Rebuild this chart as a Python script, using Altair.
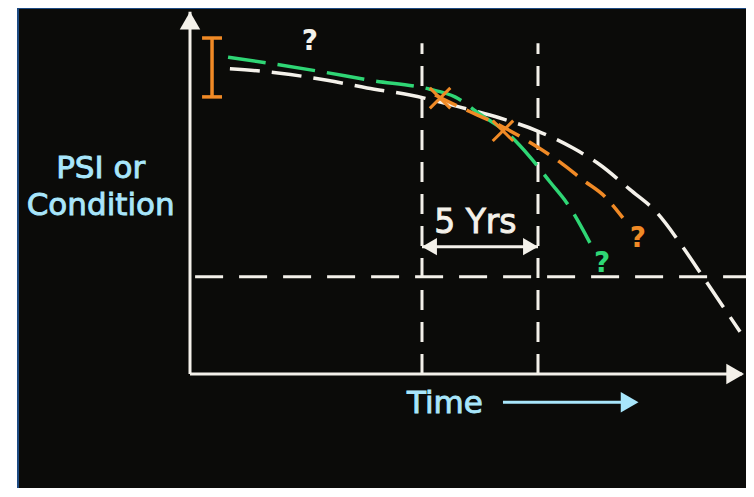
import altair as alt
import pandas as pd

# ---- values (time in years, condition in PSI units) ----
white_t = [1.72, 3.88, 5.91, 7.63, 9.48, 11.64, 13.36, 14.96, 16.51, 17.67, 18.97, 20.13, 21.25, 22.11, 22.93, 23.71]
white_v = [4.77, 4.70, 4.59, 4.47, 4.36, 4.17, 4.00, 3.80, 3.53, 3.27, 2.88, 2.52, 1.98, 1.52, 1.08, 0.66]
green_t = [1.64, 3.32, 5.73, 7.76, 10.34, 11.42, 12.50, 13.66, 14.66, 15.52, 16.25, 17.24]
green_v = [4.95, 4.86, 4.72, 4.59, 4.45, 4.33, 4.06, 3.77, 3.39, 3.00, 2.67, 2.05]
orange_t = [10.56, 11.64, 12.37, 13.49, 14.96, 15.95, 16.94, 17.89, 18.66]
orange_v = [4.36, 4.17, 4.05, 3.86, 3.55, 3.31, 3.03, 2.77, 2.44]
cross_t = [10.78, 13.49]
cross_v = [4.31, 3.80]
window_t = [10, 15]
window_top = 5.17
threshold_v = 1.52
threshold_t = [0.22, 23.97]
range_bar_t = 0.95
range_bar_v = [4.33, 5.25]
range_cap_half = 0.43
axis_top = 5.66
axis_right = 23.8
q_t = [5.17, 17.76, 19.31]
q_v = [5.06, 1.59, 1.98]
q_color = ["#f4f1ea", "#2fd675", "#f08a26"]
ylabel_lines = ["PSI or", "Condition"]
ylabel_t = -3.85
ylabel_v = [3.06, 2.48]
yrs_label = "5 Yrs"
yrs_v = 2.20
yrs_arrow_v = 1.99
time_label = "Time"
time_label_t = 9.35
time_label_v = -0.61
time_arrow_t = [13.49, 18.75]
time_arrow_v = -0.44

XDOM = [-7.414, 23.966]
YDOM = [-1.781, 5.719]
W, H = 728, 480

WHITE = "#f4f1ea"
GREEN = "#2fd675"
ORANGE = "#f08a26"
CYAN = "#a8e6fb"
BLUE = "#1d4a82"
FONT = "DejaVu Sans"

xs = alt.Scale(domain=XDOM, nice=False, zero=False)
ys = alt.Scale(domain=YDOM, nice=False, zero=False)


def X(f="t"):
    return alt.X(f"{f}:Q", scale=xs, axis=None)


def Y(f="v"):
    return alt.Y(f"{f}:Q", scale=ys, axis=None)


def curve(ts, vs, color, dash, width=3.5):
    df = pd.DataFrame({"t": ts, "v": vs})
    return alt.Chart(df).mark_line(
        color=color, strokeDash=dash, strokeWidth=width, interpolate="monotone", strokeCap="butt"
    ).encode(x=X(), y=Y())


def label(df, color, size, align="center"):
    return alt.Chart(df).mark_text(font=FONT, fontSize=size, color=color, align=align,
                                   baseline="alphabetic", stroke=color, strokeWidth=0.9).encode(
        x=X(), y=Y(), text="s:N")


layers = []

# axes
axes_df = pd.DataFrame({"t": [0, 0], "v": [0, 0], "t2": [0, axis_right], "v2": [axis_top, 0]})
layers.append(alt.Chart(axes_df).mark_rule(color=WHITE, strokeWidth=3).encode(
    x=X(), y=Y(), x2="t2:Q", y2="v2:Q"))
heads_df = pd.DataFrame({"t": [0, axis_right - 0.3], "v": [axis_top - 0.14, 0],
                         "shape": ["triangle-up", "triangle-right"]})
layers.append(alt.Chart(heads_df).mark_point(filled=True, color=WHITE, size=420, opacity=1).encode(
    x=X(), y=Y(), shape=alt.Shape("shape:N", scale=None)))

# threshold and 5-year window
thr_df = pd.DataFrame({"t": [threshold_t[0]], "t2": [threshold_t[1]], "v": [threshold_v]})
layers.append(alt.Chart(thr_df).mark_rule(color=WHITE, strokeWidth=3, strokeDash=[28, 16]).encode(
    x=X(), x2="t2:Q", y=Y()))
win_df = pd.DataFrame({"t": window_t, "v": [0, 0], "v2": [window_top, window_top]})
layers.append(alt.Chart(win_df).mark_rule(color=WHITE, strokeWidth=3, strokeDash=[20, 12]).encode(
    x=X(), y=Y(), y2="v2:Q"))

# curves
layers.append(curve(white_t, white_v, WHITE, [30, 12]))
layers.append(curve(green_t, green_v, GREEN, [38, 12]))
layers.append(curve(orange_t, orange_v, ORANGE, [24, 11]))

# crosses
cross_df = pd.DataFrame({"t": cross_t, "v": cross_v})
layers.append(alt.Chart(cross_df).mark_point(
    shape="M-1,-1L1,1M-1,1L1,-1", filled=False, color=ORANGE, strokeWidth=3, size=420, opacity=1
).encode(x=X(), y=Y()))

# range bar
bar_df = pd.DataFrame({"t": [range_bar_t], "v": [range_bar_v[0]], "v2": [range_bar_v[1]]})
layers.append(alt.Chart(bar_df).mark_rule(color=ORANGE, strokeWidth=3.5).encode(x=X(), y=Y(), y2="v2:Q"))
cap_df = pd.DataFrame({"t": [range_bar_t - range_cap_half] * 2, "t2": [range_bar_t + range_cap_half] * 2,
                       "v": range_bar_v})
layers.append(alt.Chart(cap_df).mark_rule(color=ORANGE, strokeWidth=3.5).encode(x=X(), x2="t2:Q", y=Y()))

# question marks
q_df = pd.DataFrame({"t": q_t, "v": q_v, "c": q_color, "s": ["?"] * 3})
layers.append(alt.Chart(q_df).mark_text(font=FONT, fontSize=28, fontWeight="bold", align="center",
                                        baseline="alphabetic").encode(
    x=X(), y=Y(), text="s:N", color=alt.Color("c:N", scale=None)))

# 5 Yrs label and double arrow
yrs_df = pd.DataFrame({"t": [sum(window_t) / 2 - 0.2], "v": [yrs_v], "s": [yrs_label]})
layers.append(label(yrs_df, WHITE, 33))
darr_df = pd.DataFrame({"t": [window_t[0]], "t2": [window_t[1]], "v": [yrs_arrow_v]})
layers.append(alt.Chart(darr_df).mark_rule(color=WHITE, strokeWidth=3).encode(x=X(), x2="t2:Q", y=Y()))
dheads_df = pd.DataFrame({"t": [window_t[0] + 0.32, window_t[1] - 0.32], "v": [yrs_arrow_v] * 2,
                          "shape": ["triangle-left", "triangle-right"]})
layers.append(alt.Chart(dheads_df).mark_point(filled=True, color=WHITE, size=300, opacity=1).encode(
    x=X(), y=Y(), shape=alt.Shape("shape:N", scale=None)))

# y label
yl_df = pd.DataFrame({"t": [ylabel_t] * 2, "v": ylabel_v, "s": ylabel_lines})
layers.append(label(yl_df, CYAN, 31))

# Time label and arrow
tl_df = pd.DataFrame({"t": [time_label_t], "v": [time_label_v], "s": [time_label]})
layers.append(label(tl_df, CYAN, 31, align="left"))
ta_df = pd.DataFrame({"t": [time_arrow_t[0]], "t2": [time_arrow_t[1]], "v": [time_arrow_v]})
layers.append(alt.Chart(ta_df).mark_rule(color=CYAN, strokeWidth=3).encode(x=X(), x2="t2:Q", y=Y()))
tah_df = pd.DataFrame({"t": [time_arrow_t[1] + 0.2], "v": [time_arrow_v]})
layers.append(alt.Chart(tah_df).mark_point(filled=True, color=CYAN, size=420, shape="triangle-right",
                                           opacity=1).encode(x=X(), y=Y()))

# slide frame lines (top and left)
frame_top = alt.Chart(pd.DataFrame({"a": [0]})).mark_rule(color=BLUE, strokeWidth=2).encode(
    x=alt.value(0), x2=alt.value(W), y=alt.value(0))
frame_left = alt.Chart(pd.DataFrame({"a": [0]})).mark_rule(color=BLUE, strokeWidth=2).encode(
    x=alt.value(0), y=alt.value(0), y2=alt.value(H))
layers += [frame_top, frame_left]

chart = alt.layer(*layers).properties(
    width=W, height=H,
    autosize=alt.AutoSizeParams(type="none"),
    padding={"left": 10, "top": 0, "right": 0, "bottom": 0},
    background="white",
).configure_view(fill="#0b0b09", stroke=None)

chart.save("out.html", embed_options={"renderer": "svg", "actions": False})
